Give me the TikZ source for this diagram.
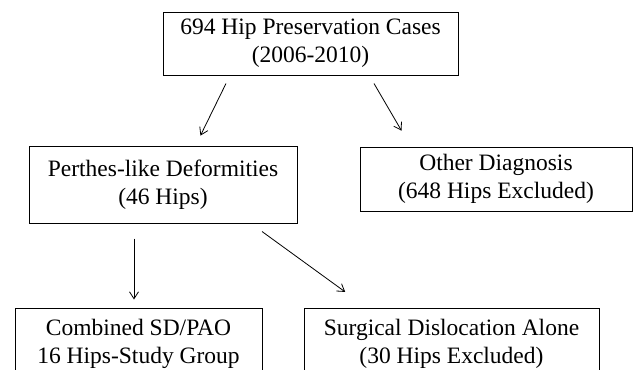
\documentclass[tikz,border=0pt]{standalone}
\usepackage{fontspec}
\setmainfont{Liberation Serif}
\usetikzlibrary{arrows.meta}

\begin{document}
\begin{tikzpicture}[x=1pt, y=-1pt, shorten >=1pt,
        box/.style={draw, line width=1pt, align=center, inner sep=0pt,
            font=\fontsize{23.5}{28}\selectfont},
        flow/.style={-{Straight Barb[length=7pt,width=9pt]}, line width=0.8pt}]
                \useasboundingbox (0,0) rectangle (633,370);
                \node[box, minimum width=295pt, minimum height=63pt] (hpc) at (310.5,43.5) {694 Hip Preservation Cases \\ (2006-2010)};
                \node[box, minimum width=268pt, minimum height=77pt] (pd) at (163,184.5) {Perthes-like Deformities \\ (46 Hips)};
                \node[box, minimum width=272pt, minimum height=64pt] (od) at (496,179) {Other Diagnosis \\ (648 Hips Excluded)};
                \node[box, minimum width=247pt, minimum height=72pt] (sp) at (138.5,344) {Combined SD/PAO \\ 16 Hips-Study Group};
                \node[box, minimum width=295pt, minimum height=72pt] (sd) at (451.5,344) {Surgical Dislocation Alone \\ (30 Hips Excluded)};
                \draw[flow] ([xshift=-84.5pt, yshift=-8pt]hpc.south) -- ([xshift=37pt, yshift=9pt]pd.north);
                \draw[flow] ([xshift=63.5pt, yshift=-8pt]hpc.south) -- ([xshift=-94pt, yshift=15pt]od.north);
                \draw[flow] ([xshift=-29pt, yshift=-15pt]pd.south) -- ([xshift=-4.5pt, yshift=7pt]sp.north);
                \draw[flow] ([xshift=99pt, yshift=-8pt]pd.south) -- ([xshift=-105.5pt, yshift=15pt]sd.north);
            \end{tikzpicture}
\end{document}
